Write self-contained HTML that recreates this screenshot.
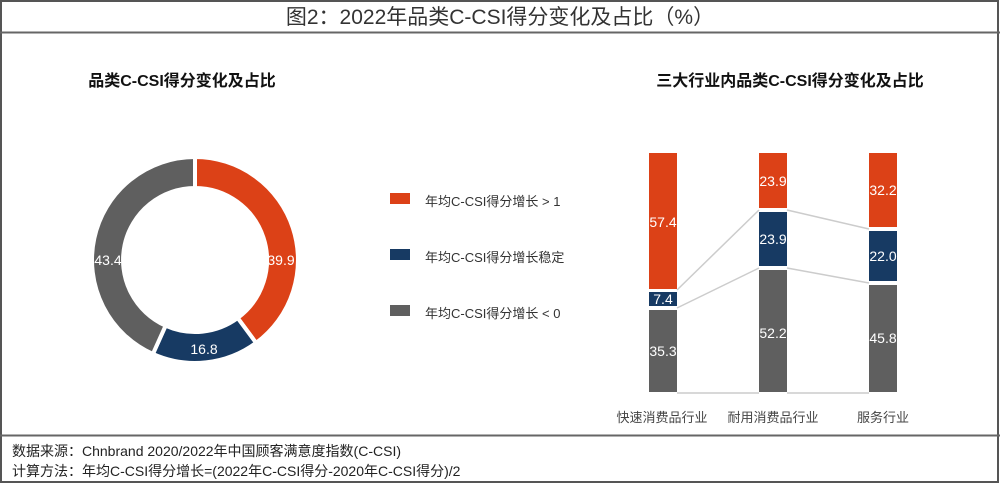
<!DOCTYPE html>
<html><head><meta charset="utf-8"><style>
body{margin:0;width:1000px;height:484px;overflow:hidden;background:#fff;font-family:"Liberation Sans","Noto Sans CJK SC",sans-serif;}
</style></head><body>
<svg width="1000" height="484" xmlns="http://www.w3.org/2000/svg" font-family="Liberation Sans, Noto Sans CJK SC, sans-serif">
<rect x="1" y="1" width="997" height="481" fill="#fff" stroke="#555" stroke-width="2"/>
<line x1="0" y1="32.5" x2="1000" y2="32.5" stroke="#666" stroke-width="2"/>
<line x1="0" y1="435.5" x2="1000" y2="435.5" stroke="#666" stroke-width="2"/>
<text x="500" y="24" text-anchor="middle" font-size="21" fill="#333">图2：2022年品类C-CSI得分变化及占比（%）</text>
<text x="182" y="86" text-anchor="middle" font-size="16" font-weight="bold" fill="#111">品类C-CSI得分变化及占比</text>
<text x="790" y="86" text-anchor="middle" font-size="16" font-weight="bold" fill="#111">三大行业内品类C-CSI得分变化及占比</text>
<g stroke="#fff" stroke-width="4">
<path d="M195,157 A103,103 0 0 1 256.1,342.9 L237.7,318 A72,72 0 0 0 195,188 Z" fill="#dc4117"/>
<path d="M256.1,342.9 A103,103 0 0 1 152.9,354 L165.6,325.7 A72,72 0 0 0 237.7,318 Z" fill="#173a63"/>
<path d="M152.9,354 A103,103 0 0 1 195,157 L195,188 A72,72 0 0 0 165.6,325.7 Z" fill="#5f5f5f"/>
</g>
<g fill="#fff" font-size="14" text-anchor="middle">
<text x="281" y="265">39.9</text><text x="204" y="354">16.8</text><text x="108" y="265">43.4</text>
</g>
<rect x="390" y="193" width="20" height="11" fill="#dc4117"/>
<rect x="390" y="249" width="20" height="11" fill="#173a63"/>
<rect x="390" y="305" width="20" height="11" fill="#5f5f5f"/>
<g font-size="13" fill="#333">
<text x="425" y="206">年均C-CSI得分增长 &gt; 1</text>
<text x="425" y="262">年均C-CSI得分增长稳定</text>
<text x="425" y="318">年均C-CSI得分增长 &lt; 0</text>
</g>
<g stroke="#ccc" stroke-width="1.5" fill="none">
<line x1="677" y1="290" x2="759" y2="210"/><line x1="677" y1="308" x2="759" y2="268"/>
<line x1="787" y1="210" x2="869" y2="229"/><line x1="787" y1="268" x2="869" y2="283"/>
<line x1="677" y1="393" x2="759" y2="393"/><line x1="787" y1="393" x2="869" y2="393"/>
</g>
<g>
<rect x="649" y="153" width="28" height="136" fill="#dc4117"/>
<rect x="649" y="292" width="28" height="14" fill="#173a63"/>
<rect x="649" y="310" width="28" height="82" fill="#5f5f5f"/>
<rect x="759" y="153" width="28" height="55" fill="#dc4117"/>
<rect x="759" y="212" width="28" height="54" fill="#173a63"/>
<rect x="759" y="270" width="28" height="122" fill="#5f5f5f"/>
<rect x="869" y="153" width="28" height="74" fill="#dc4117"/>
<rect x="869" y="231" width="28" height="50" fill="#173a63"/>
<rect x="869" y="285" width="28" height="107" fill="#5f5f5f"/>
</g>
<g fill="#fff" font-size="14" text-anchor="middle">
<text x="663" y="227">57.4</text><text x="663" y="304">7.4</text><text x="663" y="356">35.3</text>
<text x="773" y="186">23.9</text><text x="773" y="244">23.9</text><text x="773" y="338">52.2</text>
<text x="883" y="195">32.2</text><text x="883" y="261">22.0</text><text x="883" y="343">45.8</text>
</g>
<g font-size="13" fill="#444" text-anchor="middle">
<text x="662" y="422">快速消费品行业</text><text x="773" y="422">耐用消费品行业</text><text x="883" y="422">服务行业</text>
</g>
<g font-size="14" fill="#222">
<text x="12" y="456">数据来源：Chnbrand 2020/2022年中国顾客满意度指数(C-CSI)</text>
<text x="12" y="476">计算方法：年均C-CSI得分增长=(2022年C-CSI得分-2020年C-CSI得分)/2</text>
</g>
</svg>
</body></html>
